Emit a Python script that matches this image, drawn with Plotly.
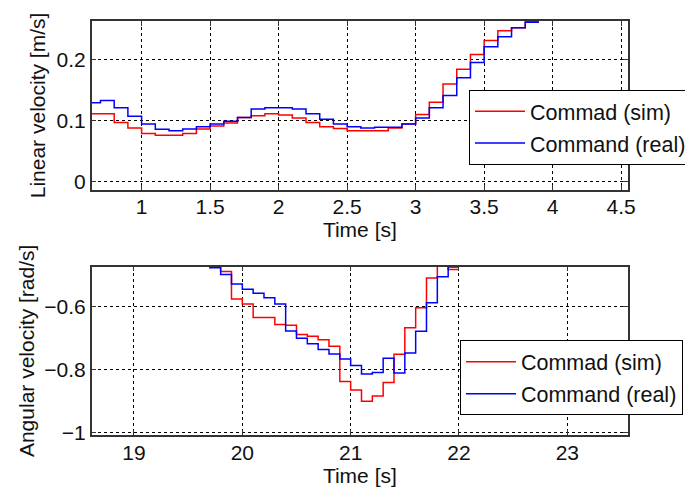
import plotly.graph_objects as go

# ---- Linear velocity (top) ----
t_lin = [0.6, 0.7, 0.8, 0.9, 1.0, 1.1, 1.2, 1.3, 1.4, 1.5, 1.6, 1.7, 1.8, 1.9,
         2.0, 2.1, 2.2, 2.3, 2.4, 2.5, 2.6, 2.7, 2.8, 2.9, 3.0, 3.1, 3.2, 3.3,
         3.4, 3.5, 3.6, 3.7, 3.8, 3.9]
lin_sim = [0.111, 0.111, 0.097, 0.088, 0.079, 0.076, 0.076, 0.079, 0.086, 0.091,
           0.096, 0.105, 0.108, 0.111, 0.109, 0.104, 0.097, 0.090, 0.087, 0.0835,
           0.0835, 0.0835, 0.088, 0.0945, 0.110, 0.130, 0.160, 0.184, 0.208, 0.231,
           0.247, 0.252, 0.262, 0.262]
lin_real = [0.129, 0.133, 0.121, 0.107, 0.0945, 0.0857, 0.0835, 0.086, 0.090, 0.0945,
            0.099, 0.105, 0.119, 0.121, 0.121, 0.119, 0.111, 0.102, 0.0945, 0.090,
            0.088, 0.089, 0.089, 0.0945, 0.104, 0.121, 0.141, 0.170, 0.195, 0.221,
            0.237, 0.252, 0.261, 0.261]

# ---- Angular velocity (bottom) ----
t_ang = [19.6, 19.7, 19.8, 19.9, 20.0, 20.1, 20.2, 20.3, 20.4, 20.5, 20.6, 20.7,
         20.8, 20.9, 21.0, 21.1, 21.2, 21.3, 21.4, 21.5, 21.6, 21.7, 21.8, 21.9, 22.0]
ang_sim = [-0.45, -0.46, -0.487, -0.575, -0.591, -0.634, -0.634, -0.656, -0.659,
           -0.688, -0.694, -0.705, -0.726, -0.838, -0.865, -0.901, -0.884, -0.841,
           -0.751, -0.667, -0.603, -0.508, -0.46, -0.481, -0.481]
ang_real = [-0.45, -0.475, -0.497, -0.527, -0.544, -0.557, -0.571, -0.591, -0.677,
            -0.700, -0.718, -0.736, -0.750, -0.766, -0.787, -0.814, -0.809, -0.764,
            -0.811, -0.747, -0.678, -0.587, -0.504, -0.473, -0.473]

names = ["Commad (sim)", "Command (real)"]
colors = ["#ff0000", "#0000ff"]

top_xticks = [1, 1.5, 2, 2.5, 3, 3.5, 4, 4.5]
top_yticks = [0, 0.1, 0.2]
bot_xticks = [19, 20, 21, 22, 23]
bot_yticks = [-1, -0.8, -0.6]

FONT = "Liberation Sans, Arial, sans-serif"
FS = 21
TXT = "#111111"

fig = go.Figure()
for t, ys, xa, ya, lg in [(t_lin, [lin_sim, lin_real], "x", "y", "legend"),
                          (t_ang, [ang_sim, ang_real], "x2", "y2", "legend2")]:
    for i, y in enumerate(ys):
        fig.add_trace(go.Scatter(x=t, y=y, mode="lines", line_shape="hv",
                                 line=dict(color=colors[i], width=1.5), name=names[i],
                                 legendgroup=f"{lg}_{i}", xaxis=xa, yaxis=ya, legend=lg))

axis_common = dict(showline=True, linecolor="#333333", linewidth=1.5, mirror="ticks",
                   ticks="inside", ticklen=5, tickcolor="#333333", showgrid=True,
                   gridcolor="black", griddash="dot", gridwidth=1, zeroline=False,
                   tickfont=dict(family=FONT, size=FS, color=TXT))
title_font = dict(family=FONT, size=FS, color=TXT)

fig.update_layout(
    width=685, height=488,
    margin=dict(l=0, r=0, t=0, b=0, autoexpand=False),
    paper_bgcolor="white", plot_bgcolor="white",
    font=dict(family=FONT, size=FS, color=TXT),
    xaxis=dict(domain=[0.1339, 0.9168], anchor="y", range=[0.636, 4.55],
               tickvals=top_xticks, ticklabelstandoff=-3,
               title=dict(text="Time [s]", standoff=0, font=title_font), **axis_common),
    yaxis=dict(domain=[0.6107, 0.957], anchor="x", range=[-0.0136, 0.263],
               tickvals=top_yticks,
               title=dict(text="Linear velocity [m/s]", standoff=5, font=title_font),
               **axis_common),
    xaxis2=dict(domain=[0.1339, 0.9168], anchor="y2", range=[18.61, 23.56],
                tickvals=bot_xticks, ticklabelstandoff=-2,
                title=dict(text="Time [s]", standoff=2, font=title_font), **axis_common),
    yaxis2=dict(domain=[0.1086, 0.4535], anchor="x2", range=[-1.0086, -0.472],
                tickvals=bot_yticks,
                title=dict(text="Angular velocity [rad/s]", standoff=4, font=title_font),
                **axis_common),
    legend=dict(x=0.6847, y=0.8162, xanchor="left", yanchor="top", bgcolor="white",
                bordercolor="black", borderwidth=1, itemwidth=50, tracegroupgap=1,
                font=dict(family=FONT, size=21.5, color=TXT)),
    legend2=dict(x=0.6715, y=0.3027, xanchor="left", yanchor="top", bgcolor="white",
                 bordercolor="black", borderwidth=1, itemwidth=50, tracegroupgap=1,
                 font=dict(family=FONT, size=21.5, color=TXT)),
)

fig.write_html("out.html")
